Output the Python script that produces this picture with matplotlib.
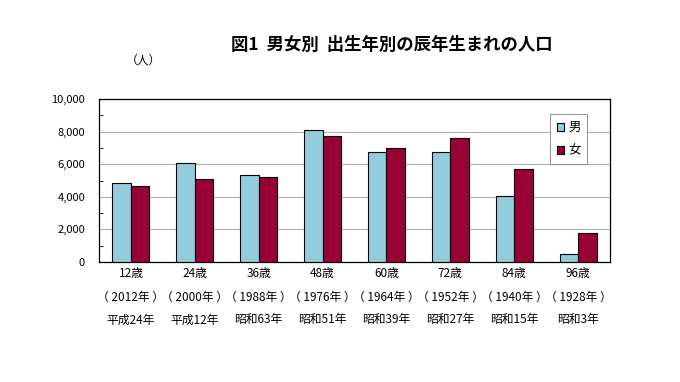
import numpy as np
import matplotlib
matplotlib.use('Agg')
import matplotlib.pyplot as plt
import matplotlib.ticker as ticker

plt.rcParams['font.family'] = ['Noto Sans CJK JP', 'DejaVu Sans']

ages = ['12歳', '24歳', '36歳', '48歳', '60歳', '72歳', '84歳', '96歳']
years = ['（2012年）', '（2000年）', '（1988年）', '（1976年）',
         '（1964年）', '（1952年）', '（1940年）', '（1928年）']
eras = ['平成24年', '平成12年', '昭和63年', '昭和51年',
        '昭和39年', '昭和27年', '昭和15年', '昭和3年']
male = [4840, 6070, 5350, 8120, 6760, 6760, 4020, 510]
female = [4670, 5120, 5200, 7750, 6970, 7600, 5680, 1800]

fig = plt.figure(figsize=(6.8, 3.82), dpi=100)
ax = fig.add_axes([99/680, 1-262/382, 511/680, 163/382])

x = np.arange(len(ages))
w = 0.29
ax.bar(x - w/2, male, w, color='#93CDDD', edgecolor='black', linewidth=0.8, label='男', zorder=3)
ax.bar(x + w/2, female, w, color='#990033', edgecolor='black', linewidth=0.8, label='女', zorder=3)

ax.set_xlim(-0.5, len(ages) - 0.5)
ax.set_ylim(0, 10000)
ax.yaxis.set_major_locator(ticker.MultipleLocator(2000))
ax.yaxis.set_minor_locator(ticker.MultipleLocator(1000))
ax.yaxis.set_major_formatter(ticker.FuncFormatter(lambda v, p: f'{int(v):,}'))
ax.grid(axis='y', which='major', color='#b0b0b0', linewidth=0.8, zorder=0)
ax.tick_params(axis='y', which='major', length=0, labelsize=8, pad=10)
ax.tick_params(axis='y', which='minor', direction='in', length=3, width=0.6)
ax.set_xticks(x)
ax.set_xticklabels([])
ax.tick_params(axis='x', length=0)
for s in ax.spines.values():
    s.set_linewidth(0.9)

for i in range(len(ages)):
    xf = (99 + 511 * (i + 0.5) / 8) / 680
    fig.text(xf, 1 - 273/382, ages[i], ha='center', va='center', fontsize=8.5)
    fig.text(xf, 1 - 297/382, years[i].replace('（', '（ ').replace('）', ' ）'),
             ha='center', va='center', fontsize=8.5)
    fig.text(xf, 1 - 320/382, eras[i], ha='center', va='center', fontsize=8.5)

leg = ax.legend(loc='upper right', bbox_to_anchor=(0.968, 0.945), fontsize=9,
                handlelength=0.6, handleheight=0.6, handletextpad=0.3,
                labelspacing=0.8, borderpad=0.55, fancybox=False, framealpha=1)
leg.get_frame().set_edgecolor('#808080')
leg.get_frame().set_linewidth(0.6)

fig.text(392/680, 1 - 45/382, '図1  男女別  出生年別の辰年生まれの人口',
         ha='center', va='center', fontsize=12.5, fontweight='bold')
fig.text(143/680, 1 - 60/382, '（人）', ha='center', va='center', fontsize=8.5)

fig.savefig('out.png', dpi=100)
